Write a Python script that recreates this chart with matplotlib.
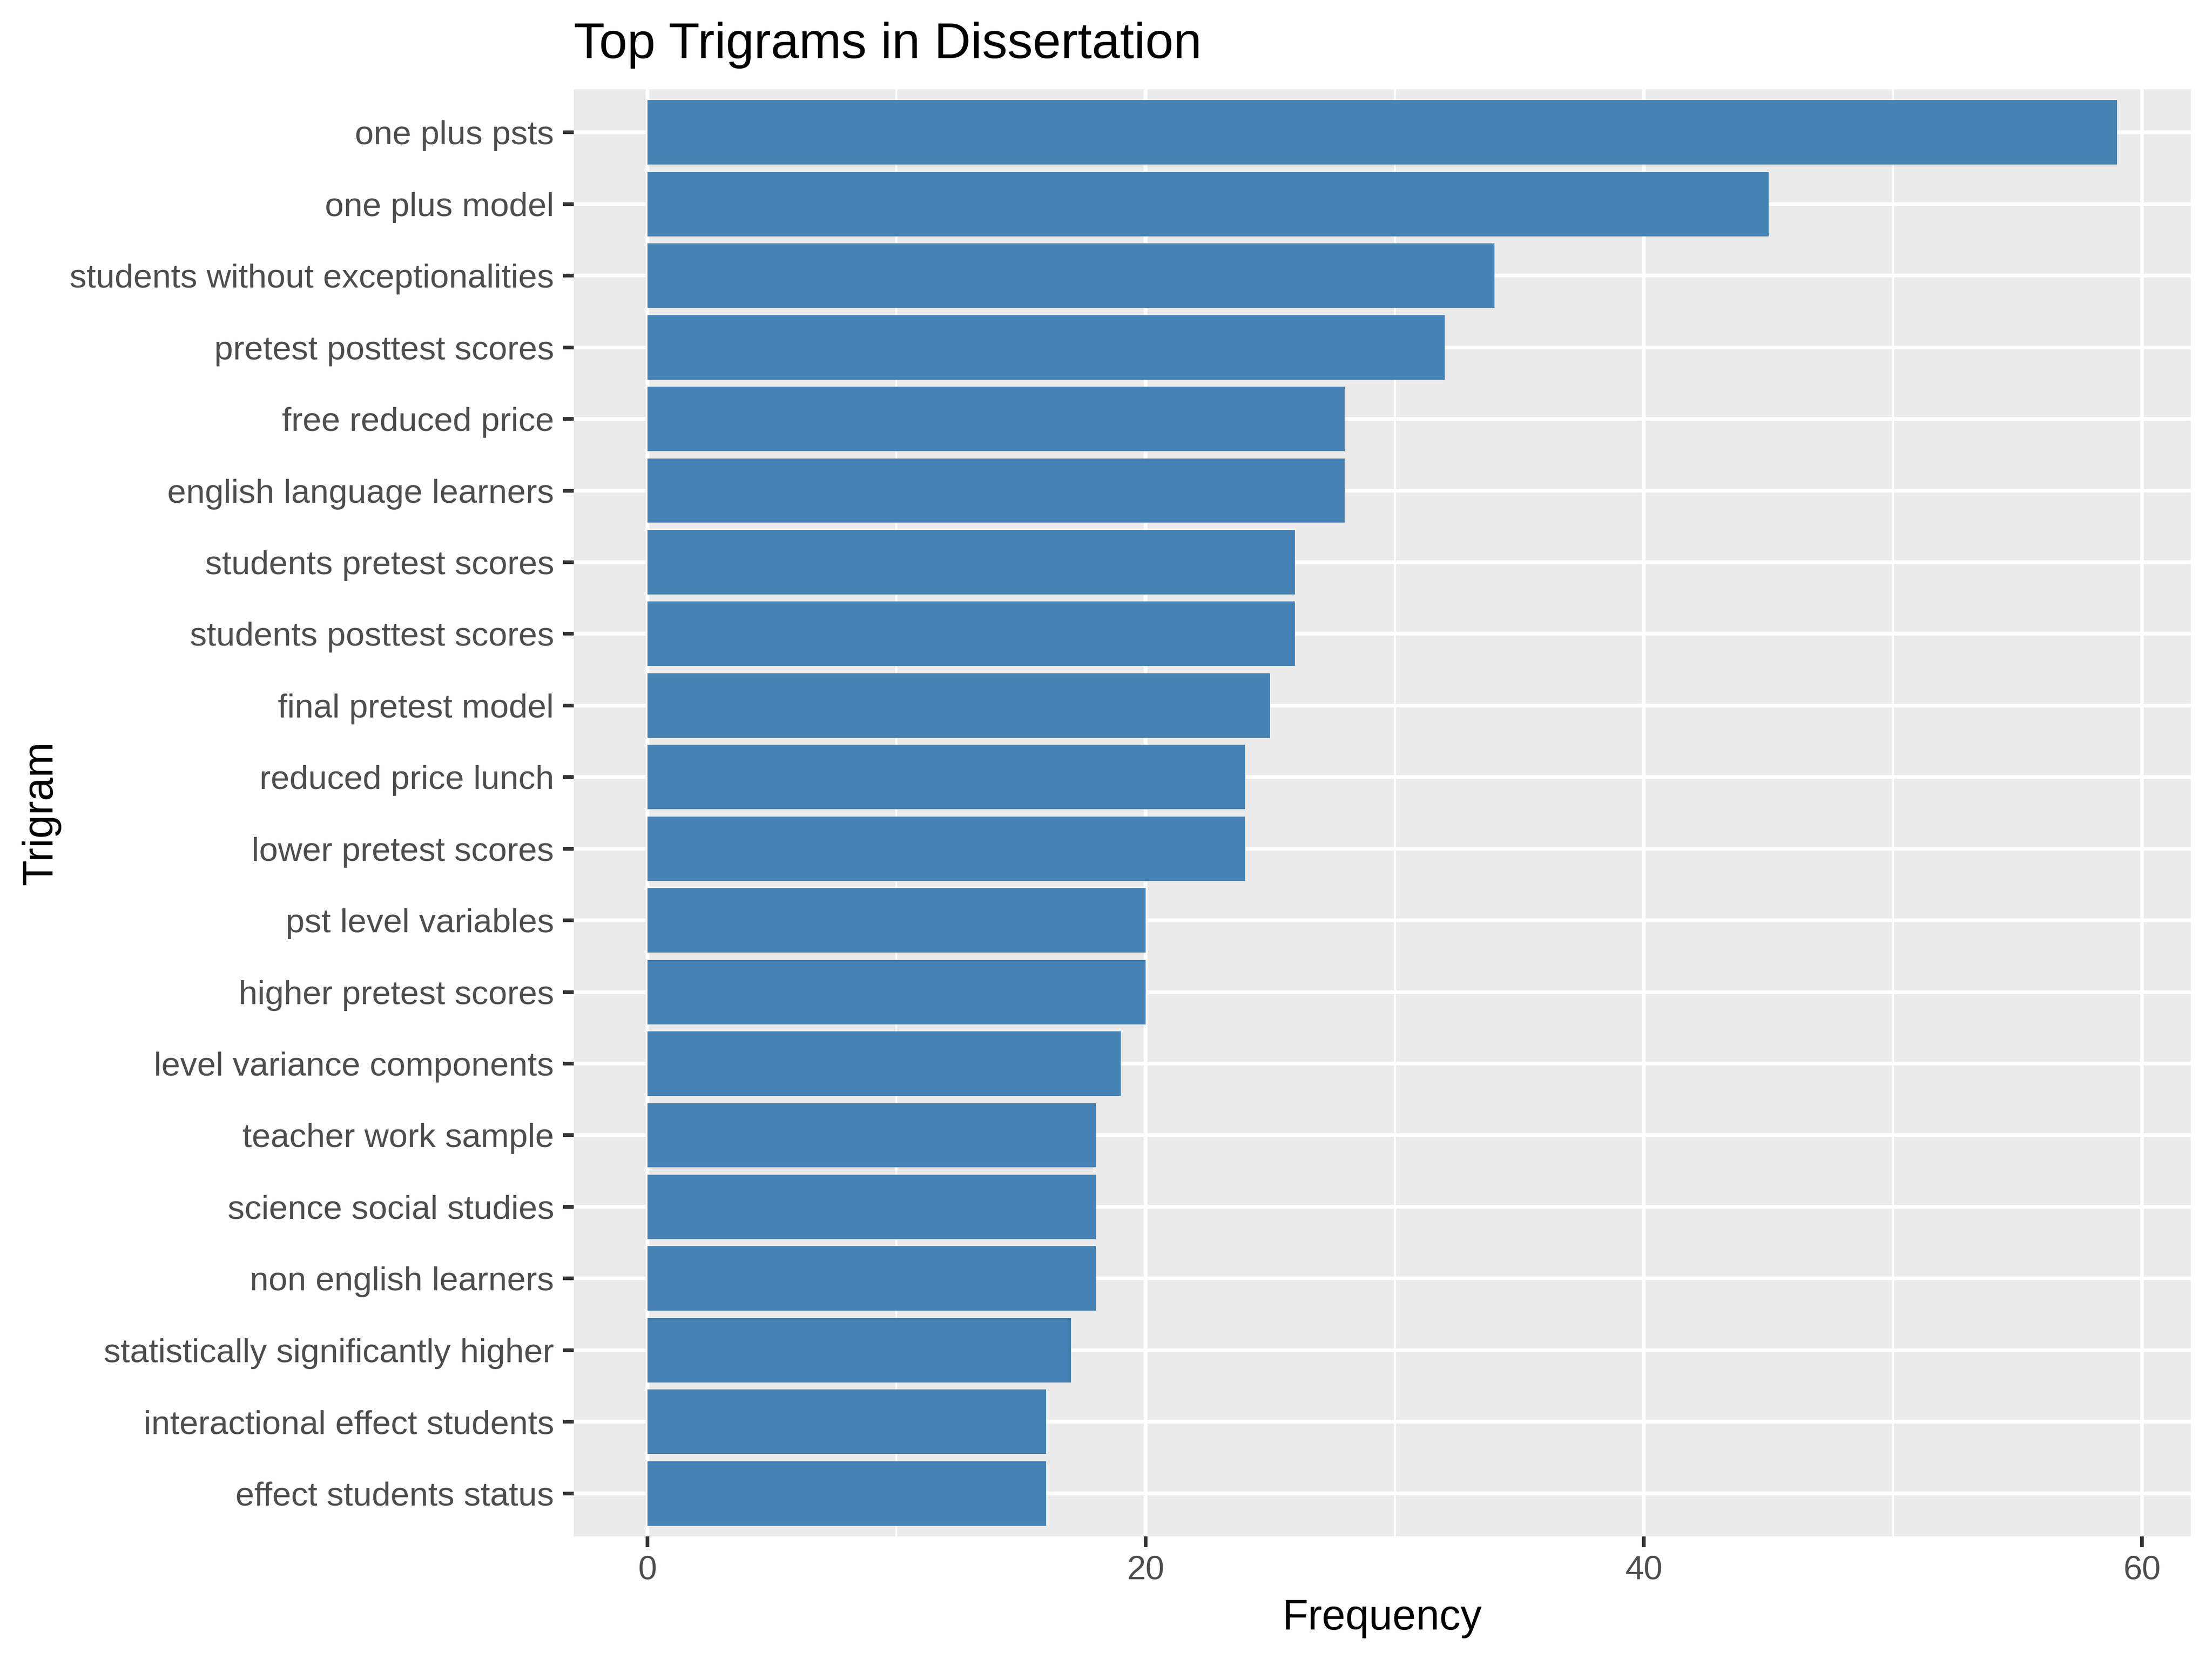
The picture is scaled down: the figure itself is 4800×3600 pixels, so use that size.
import matplotlib
matplotlib.use("Agg")
import matplotlib.pyplot as plt
from matplotlib.ticker import MultipleLocator

plt.rcParams["font.family"] = ["Liberation Sans", "DejaVu Sans"]

trigrams = [
    "one plus psts",
    "one plus model",
    "students without exceptionalities",
    "pretest posttest scores",
    "free reduced price",
    "english language learners",
    "students pretest scores",
    "students posttest scores",
    "final pretest model",
    "reduced price lunch",
    "lower pretest scores",
    "pst level variables",
    "higher pretest scores",
    "level variance components",
    "teacher work sample",
    "science social studies",
    "non english learners",
    "statistically significantly higher",
    "interactional effect students",
    "effect students status",
]
frequency = [59, 45, 34, 32, 28, 28, 26, 26, 25, 24, 24, 20, 20, 19, 18, 18, 18, 17, 16, 16]

x_ticks = [0, 20, 40, 60]

# ggplot-ish grey theme
panel_bg = "#EBEBEB"
bar_col = "#4682B4"
tick_col = "#333333"
label_col = "#4D4D4D"

fig = plt.figure(figsize=(16, 12), dpi=300)
left, right, bottom, top = 0.2594, 0.9904, 0.0739, 0.9461
ax = fig.add_axes([left, bottom, right - left, top - bottom])
ax.set_facecolor(panel_bg)

n = len(trigrams)
ypos = list(range(n - 1, -1, -1))
ax.barh(ypos, frequency, height=0.9, color=bar_col, zorder=3)

xmax = max(frequency)
ax.set_xlim(-0.05 * xmax, 1.05 * xmax)
ax.set_ylim(-0.6, n - 1 + 0.6)

ax.set_xticks(x_ticks)
ax.xaxis.set_minor_locator(MultipleLocator(10))
ax.set_yticks(ypos)
ax.set_yticklabels(trigrams)

ax.grid(which="major", color="white", linewidth=1.92, zorder=1)
ax.grid(which="minor", axis="x", color="white", linewidth=1.0, zorder=1)
ax.set_axisbelow(True)

for s in ax.spines.values():
    s.set_visible(False)

ax.tick_params(axis="both", which="major", length=5.5, width=1.92, color=tick_col,
               labelsize=17.6, labelcolor=label_col)
ax.tick_params(axis="y", which="major", pad=4.8)
ax.tick_params(axis="x", which="major", pad=4.2)
ax.tick_params(axis="both", which="minor", length=0)

fig.text(left, 0.965, "Top Trigrams in Dissertation", fontsize=26.4,
         ha="left", va="baseline", color="black")
fig.text((left + right) / 2, 0.0178, "Frequency", fontsize=22, ha="center", va="baseline")
fig.text(0.0235, (bottom + top) / 2, "Trigram", fontsize=22, ha="center", va="baseline",
         rotation=90, rotation_mode="anchor")

fig.savefig("out.png", dpi=300)
